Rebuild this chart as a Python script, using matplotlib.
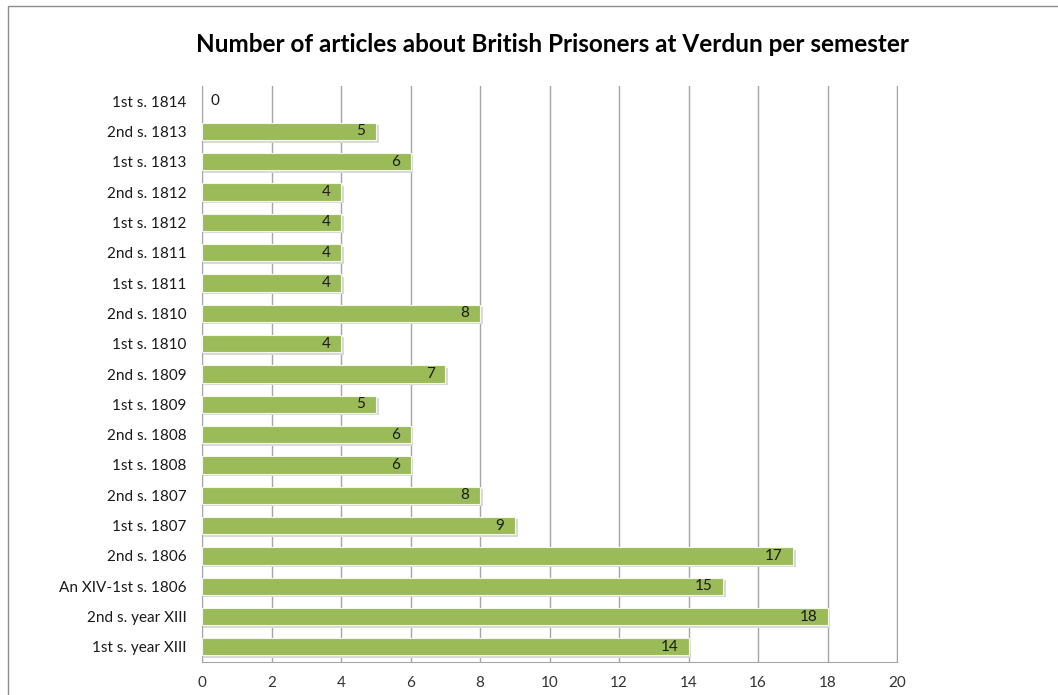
import matplotlib
matplotlib.use("Agg")
import matplotlib.pyplot as plt
from matplotlib.patches import Rectangle

categories = [
    "1st s. year XIII", "2nd s. year XIII", "An XIV-1st s. 1806", "2nd s. 1806",
    "1st s. 1807", "2nd s. 1807", "1st s. 1808", "2nd s. 1808", "1st s. 1809",
    "2nd s. 1809", "1st s. 1810", "2nd s. 1810", "1st s. 1811", "2nd s. 1811",
    "1st s. 1812", "2nd s. 1812", "1st s. 1813", "2nd s. 1813", "1st s. 1814",
]
articles = [14, 18, 15, 17, 9, 8, 6, 6, 5, 7, 4, 8, 4, 4, 4, 4, 6, 5, 0]
x_ticks = [0, 2, 4, 6, 8, 10, 12, 14, 16, 18, 20]

plt.rcParams["font.family"] = ["Lato", "DejaVu Sans"]

W, H = 1058, 695
fig = plt.figure(figsize=(W / 100, H / 100), dpi=100)
ax = fig.add_axes([202 / W, 1 - 662 / H, (897 - 202) / W, (662 - 86) / H])

# outer chart frame (runs off the right and bottom edges)
fig.patches.append(Rectangle((8 / W, -0.05), 1.1, 1.05 - 6 / H,
                             transform=fig.transFigure, fill=False,
                             edgecolor="#8c8c8c", linewidth=1.0))

ypos = list(range(len(categories)))
bar_h = 0.57
nonzero = [(y, v) for y, v in zip(ypos, articles) if v > 0]
# soft drop shadow behind each bar
ax.barh([y - 0.08 for y, _ in nonzero], [v + 0.08 for _, v in nonzero],
        height=bar_h, color="#d9d9d9", linewidth=0, zorder=2)
ax.barh([y for y, _ in nonzero], [v for _, v in nonzero], height=bar_h,
        color="#9BBB59", edgecolor="#f4f8ec", linewidth=0.8, zorder=3)

for y, v in zip(ypos, articles):
    if v > 0:
        ax.text(v - 0.3, y, str(v), ha="right", va="center",
                fontsize=11, color="#1a1a1a", zorder=4)
    else:
        ax.text(0.25, y, str(v), ha="left", va="center",
                fontsize=11, color="#1a1a1a", zorder=4)

ax.set_xlim(0, 20)
ax.set_ylim(-0.5, len(categories) - 0.5)
ax.set_xticks(x_ticks)
ax.set_xticklabels([str(t) for t in x_ticks], fontsize=11, color="#333333")
ax.set_yticks(ypos)
ax.set_yticklabels(categories, fontsize=11, color="#1a1a1a")
ax.tick_params(axis="x", length=0, pad=10)
ax.tick_params(axis="y", length=0, pad=11)
ax.xaxis.grid(True, color="#a6a6a6", linewidth=1.0, zorder=1)
ax.set_axisbelow(True)
ax.spines["top"].set_visible(False)
for side in ("right", "left", "bottom"):
    ax.spines[side].set_color("#a6a6a6")

fig.text(553 / W, 1 - 45 / H,
         "Number of articles about British Prisoners at Verdun per semester",
         ha="center", va="center", fontsize=17.5, fontweight="bold", color="#000000")

fig.savefig("out.png", dpi=100)
